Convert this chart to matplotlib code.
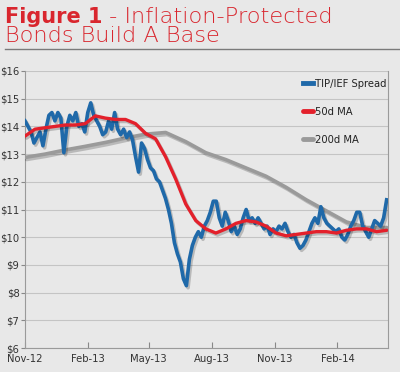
import matplotlib
matplotlib.use('Agg')
import matplotlib.pyplot as plt
import matplotlib.patheffects as pe
from matplotlib import font_manager as fm
import pandas as pd

# TIP/IEF spread (evenly spaced samples)
spread = [14.2, 14.0, 13.8, 13.4, 13.6, 13.8, 13.3, 13.9, 14.4, 14.5,
          14.2, 14.5, 14.3, 13.05, 14.0, 14.4, 14.2, 14.5, 14.0, 14.1,
          13.8, 14.5, 14.85, 14.4, 14.2, 14.0, 13.7, 13.8, 14.2, 13.9,
          14.5, 13.9, 13.7, 13.9, 13.6, 13.8, 13.5, 12.9, 12.35, 13.4,
          13.2, 12.8, 12.5, 12.4, 12.1, 12.0, 11.7, 11.4, 11.0, 10.5,
          9.8, 9.4, 9.1, 8.5, 8.25, 9.2, 9.7, 10.0, 10.2, 10.0,
          10.4, 10.6, 10.9, 11.3, 11.3, 10.7, 10.4, 10.9, 10.6, 10.2,
          10.4, 10.1, 10.3, 10.7, 11.0, 10.6, 10.7, 10.5, 10.7, 10.5,
          10.3, 10.4, 10.1, 10.3, 10.2, 10.4, 10.3, 10.5, 10.2, 10.0,
          10.1, 9.8, 9.6, 9.7, 9.9, 10.2, 10.5, 10.7, 10.5, 11.1,
          10.7, 10.5, 10.4, 10.3, 10.2, 10.3, 10.0, 9.9, 10.1, 10.4,
          10.6, 10.9, 10.9, 10.4, 10.2, 10.0, 10.3, 10.6, 10.5, 10.4,
          10.7, 11.35]
ma50 = [13.65, 13.9, 13.95, 14.0, 14.05, 14.05, 14.1, 14.38, 14.3, 14.25,
        14.25, 14.1, 13.75, 13.55, 12.9, 12.1, 11.2, 10.6, 10.3, 10.15,
        10.3, 10.5, 10.6, 10.55, 10.4, 10.15, 10.05, 10.1, 10.15, 10.2,
        10.2, 10.15, 10.25, 10.3, 10.3, 10.2, 10.25]
ma200 = [12.88, 13.0, 13.15, 13.28, 13.42, 13.58, 13.72, 13.78, 13.45, 13.05,
         12.8, 12.5, 12.2, 11.8, 11.35, 10.95, 10.55, 10.35, 10.35]

start, end = '2012-11-01', '2014-04-14'
spread_dates = pd.date_range(start, end, periods=len(spread))
ma50_dates = pd.date_range(start, end, periods=len(ma50))
ma200_dates = pd.date_range(start, end, periods=len(ma200))

tick_dates = pd.to_datetime(['2012-11-01', '2013-02-01', '2013-05-01',
                             '2013-08-01', '2013-11-01', '2014-02-01'])
tick_labels = ['Nov-12', 'Feb-13', 'May-13', 'Aug-13', 'Nov-13', 'Feb-14']
y_ticks = list(range(6, 17))

bg = '#e8e8e8'
red = '#d9262e'

# a narrow, regular-weight face for the axis text if one is installed
narrow = [f for f in fm.fontManager.ttflist
          if (f.stretch in ('condensed', 'semi-condensed', 'extra-condensed')
              or 'Narrow' in f.name or 'Condensed' in f.name)
          and f.weight in (400, 'normal', 'regular', 'book', 500, 'medium')
          and f.style == 'normal']
if narrow:
    small = fm.FontProperties(fname=narrow[0].fname, size=8)
else:
    small = fm.FontProperties(family='Liberation Sans', size=7.5)

fig = plt.figure(figsize=(4, 3.72), dpi=100, facecolor=bg)
ax = fig.add_axes([25/400, 1 - 348/372, 363/400, 277/372], facecolor=bg)

shadow = [pe.SimpleLineShadow(offset=(1.2, -1.5), shadow_color='k', alpha=0.2), pe.Normal()]
ax.plot(ma200_dates, ma200, color='#9a9a9a', lw=2.6, solid_capstyle='round',
        label='200d MA', path_effects=shadow, zorder=3)
ax.plot(spread_dates, spread, color='#1f69a9', lw=2.6, solid_joinstyle='round',
        label='TIP/IEF Spread', path_effects=shadow, zorder=4)
ax.plot(ma50_dates, ma50, color='#e3202b', lw=2.4, solid_capstyle='round',
        label='50d MA', path_effects=shadow, zorder=5)

ax.set_xlim(pd.Timestamp('2012-11-01'), pd.Timestamp('2014-04-16'))
ax.set_ylim(6, 16)
ax.set_yticks(y_ticks)
ax.set_yticklabels(['\\$%d' % v for v in y_ticks], fontproperties=small, color='#333333')
ax.set_xticks(tick_dates)
ax.set_xticklabels(tick_labels, fontproperties=small, color='#333333')
ax.tick_params(axis='x', direction='in', length=4, color='#888888', pad=4)
ax.tick_params(axis='y', direction='out', length=3, color='#888888', pad=1)
ax.grid(axis='y', color='#c4c4c4', lw=0.8)
ax.set_axisbelow(True)
for s in ax.spines.values():
    s.set_color('#9a9a9a')
    s.set_linewidth(0.8)
ax.spines['top'].set_visible(False)

h, l = ax.get_legend_handles_labels()
order = [1, 2, 0]
leg = ax.legend([h[i] for i in order], [l[i] for i in order], loc='upper left',
                bbox_to_anchor=((297 - 25) / 363, (348 - 73) / 277),
                frameon=False, borderpad=0, handlelength=0.9, handletextpad=0.25,
                labelspacing=1.65, prop=small)
for line in leg.get_lines():
    line.set_linewidth(3.5)
    line.set_path_effects([])
for t in leg.get_texts():
    t.set_color('#222222')

t1 = fig.text(5 / 400, 1 - 23 / 372, 'Figure 1', fontfamily='DejaVu Sans', fontweight='bold',
              fontsize=15, color=red, va='baseline', ha='left')
fig.canvas.draw()
ax.annotate(' - Inflation-Protected', xy=(1, 0), xycoords=t1, va='bottom', ha='left',
            fontfamily='DejaVu Sans', fontweight='light', fontsize=16.2, color=red,
            annotation_clip=False)
fig.text(5 / 400, 1 - 42 / 372, 'Bonds Build A Base', fontfamily='DejaVu Sans', fontweight='light',
         fontsize=16.2, color=red, va='baseline', ha='left')
fig.add_artist(plt.Line2D([5 / 400, 1], [1 - 48.5 / 372] * 2, color='#7a7a7a', lw=1))

fig.savefig('out.png', dpi=100, facecolor=bg)
